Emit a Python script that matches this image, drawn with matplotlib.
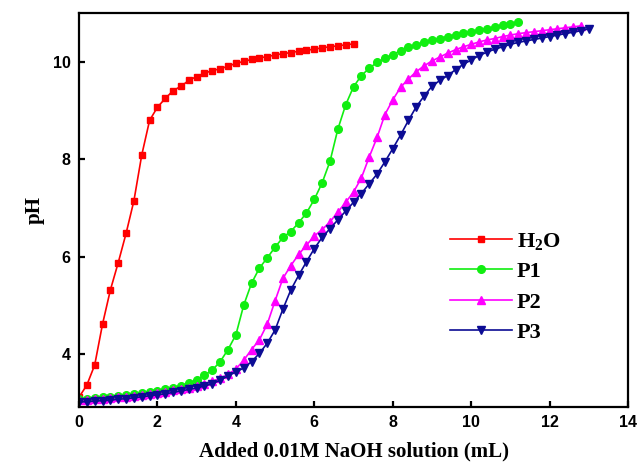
import matplotlib
matplotlib.use("Agg")
from matplotlib import pyplot as plt
import numpy as np

# titration volumes (mL), 0.2 mL steps
x_h2o = np.round(np.arange(0, 7.01, 0.2), 1)
x_p1 = np.round(np.arange(0, 11.21, 0.2), 1)
x_p2 = np.round(np.arange(0, 12.81, 0.2), 1)
x_p3 = np.round(np.arange(0, 13.01, 0.2), 1)

ph_h2o = [3.12, 3.37, 3.78, 4.62, 5.32, 5.88, 6.48, 7.15, 8.09, 8.80,
          9.07, 9.25, 9.41, 9.50, 9.62, 9.70, 9.77, 9.82, 9.86, 9.91,
          9.97, 10.01, 10.05, 10.08, 10.11, 10.14, 10.17, 10.19, 10.22, 10.24,
          10.26, 10.29, 10.31, 10.33, 10.35, 10.37]

ph_p1 = [3.08, 3.09, 3.10, 3.12, 3.13, 3.15, 3.17, 3.19, 3.21, 3.23,
         3.25, 3.28, 3.32, 3.36, 3.41, 3.48, 3.57, 3.68, 3.85, 4.10,
         4.40, 5.01, 5.46, 5.77, 5.98, 6.20, 6.40, 6.52, 6.70, 6.90,
         7.18, 7.52, 7.96, 8.62, 9.12, 9.49, 9.72, 9.87, 9.99, 10.07,
         10.15, 10.23, 10.30, 10.35, 10.40, 10.44, 10.48, 10.52, 10.56, 10.59,
         10.62, 10.65, 10.68, 10.72, 10.75, 10.78, 10.82]

ph_p2 = [3.06, 3.07, 3.08, 3.09, 3.10, 3.12, 3.13, 3.15, 3.17, 3.19,
         3.21, 3.23, 3.26, 3.29, 3.32, 3.36, 3.40, 3.45, 3.51, 3.59,
         3.70, 3.88, 4.10, 4.30, 4.62, 5.10, 5.56, 5.82, 6.05, 6.24,
         6.43, 6.56, 6.72, 6.92, 7.12, 7.33, 7.62, 8.05, 8.45, 8.92,
         9.22, 9.48, 9.65, 9.80, 9.92, 10.02, 10.10, 10.18, 10.25, 10.31,
         10.36, 10.41, 10.45, 10.48, 10.52, 10.55, 10.58, 10.60, 10.62, 10.64,
         10.66, 10.68, 10.70, 10.72, 10.74]

ph_p3 = [3.02, 3.03, 3.04, 3.05, 3.06, 3.08, 3.09, 3.11, 3.13, 3.15,
         3.17, 3.19, 3.22, 3.25, 3.28, 3.31, 3.35, 3.40, 3.47, 3.56,
         3.64, 3.72, 3.85, 4.02, 4.23, 4.50, 4.93, 5.32, 5.62, 5.90,
         6.17, 6.40, 6.58, 6.76, 6.94, 7.12, 7.30, 7.50, 7.70, 7.95,
         8.22, 8.50, 8.80, 9.08, 9.30, 9.50, 9.62, 9.72, 9.84, 9.95,
         10.04, 10.13, 10.20, 10.26, 10.31, 10.36, 10.40, 10.43, 10.46, 10.49,
         10.52, 10.55, 10.58, 10.61, 10.64, 10.68]

plt.rcParams['mathtext.fontset'] = 'custom'
plt.rcParams['mathtext.rm'] = 'Liberation Serif:bold'
plt.rcParams['mathtext.it'] = 'Liberation Serif:bold'
plt.rcParams['mathtext.bf'] = 'Liberation Serif:bold'

fig = plt.figure(figsize=(6.37, 4.70), dpi=100)
ax = fig.add_axes([0.124, 0.134, 0.862, 0.838])

ax.plot(x_h2o, ph_h2o, color='#ff0000', marker='s', ms=5, lw=1.2, label='H$_\\mathrm{2}$O')
ax.plot(x_p1, ph_p1, color='#11ee11', marker='o', ms=5.5, lw=1.2, label='P1')
ax.plot(x_p2, ph_p2, color='#ff00ff', marker='^', ms=6, lw=1.2, label='P2')
ax.plot(x_p3, ph_p3, color='#0c0c94', marker='v', ms=6, lw=1.2, label='P3')

ax.set_xlim(0, 14)
ax.set_ylim(2.92, 11.0)
ax.set_xticks(range(0, 15, 2))
ax.set_yticks([4, 6, 8, 10])

for s in ax.spines.values():
    s.set_linewidth(1.6)
ax.tick_params(direction='in', length=4, width=1.6, top=False, right=False, pad=6)
for lab in ax.get_xticklabels() + ax.get_yticklabels():
    lab.set_fontfamily('Liberation Sans')
    lab.set_fontweight('bold')
    lab.set_fontsize(11.5)

ax.set_xlabel('Added 0.01M NaOH solution (mL)', family='Liberation Serif',
              fontweight='bold', fontsize=15, labelpad=8)
ax.set_ylabel('pH', family='Liberation Serif', fontweight='bold', fontsize=15, labelpad=6)

ax.legend(loc='upper left', bbox_to_anchor=(0.676, 0.448), frameon=False,
          prop={'family': 'Liberation Serif', 'weight': 'bold', 'size': 16},
          handlelength=2.8, handletextpad=0.2, labelspacing=0.45,
          borderpad=0, borderaxespad=0)

fig.savefig('out.png', dpi=100)
